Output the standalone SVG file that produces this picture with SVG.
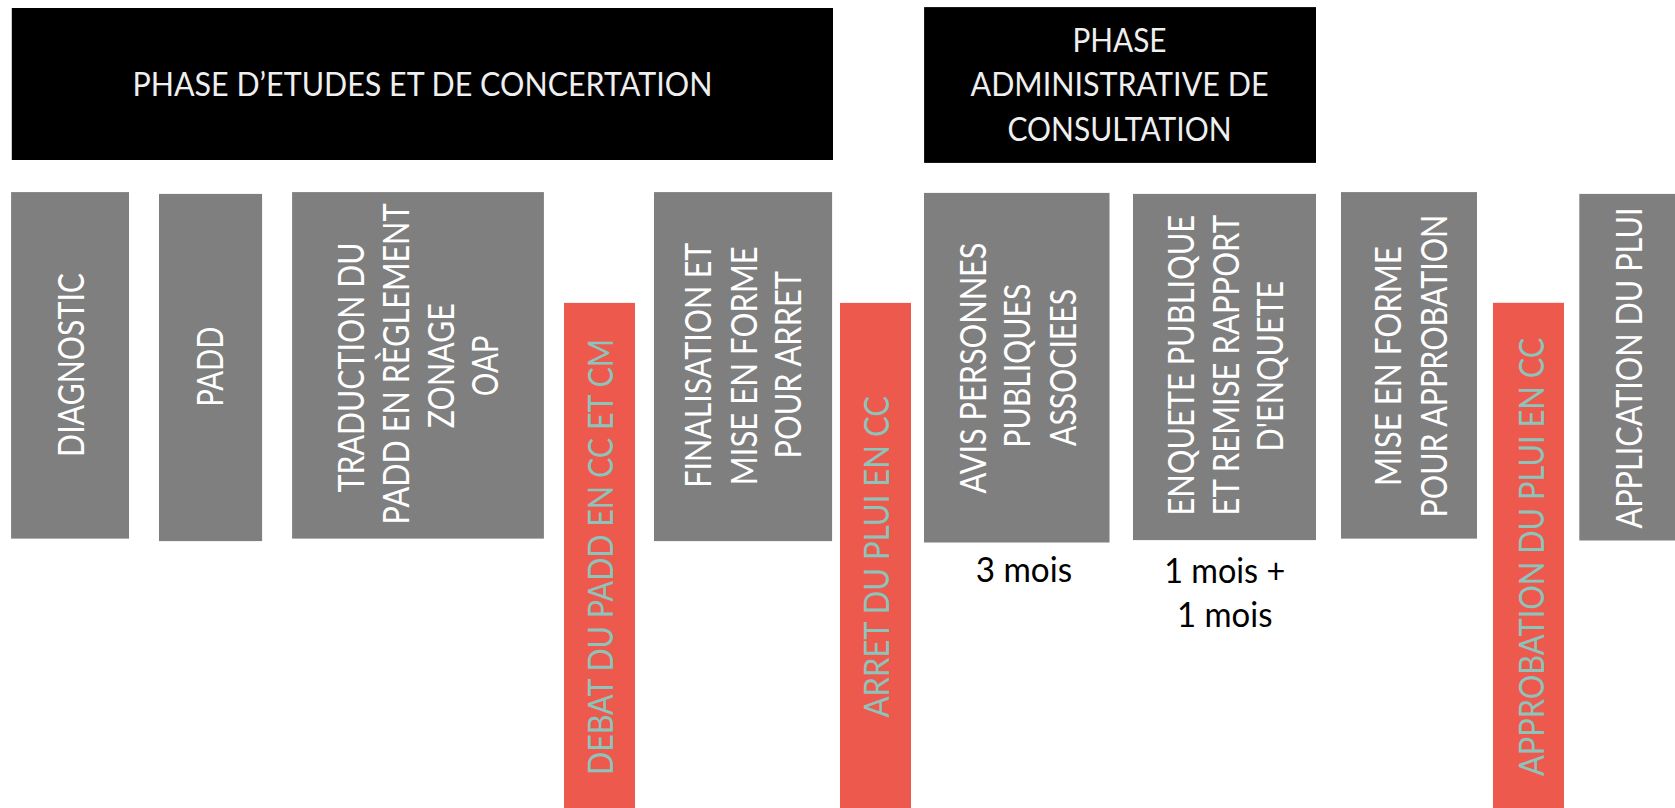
<svg xmlns="http://www.w3.org/2000/svg" width="1675" height="808" viewBox="0 0 1675 808">
<style>
.phase{fill:#000000}
.step{fill:#7f7f7f}
.key{fill:#ed5a4d}
text{font-family:Lato,"Open Sans","Liberation Sans",sans-serif}
.ttl{fill:#efefef;font-size:32px;text-anchor:middle}
.st{fill:#ffffff;font-size:37px;text-anchor:middle}
.kt{fill:#8cc3bb;font-size:35px;text-anchor:middle}
.dur{fill:#000000;font-size:34px;text-anchor:middle}
</style>
<rect width="1675" height="808" fill="#ffffff"/>
<g id="phase-etudes">
<rect class="phase" x="11.8" y="8" width="821.2" height="152"/>
<text class="ttl" x="422.4" y="96.4" textLength="580" lengthAdjust="spacingAndGlyphs">PHASE D’ETUDES ET DE CONCERTATION</text>
</g>
<g id="phase-administrative">
<rect class="phase" x="924.1" y="7.1" width="391.9" height="155.8"/>
<text class="ttl" x="1119.5" y="51.8" textLength="94" lengthAdjust="spacingAndGlyphs">PHASE</text>
<text class="ttl" x="1119.5" y="96.4" textLength="298" lengthAdjust="spacingAndGlyphs">ADMINISTRATIVE DE</text>
<text class="ttl" x="1119.5" y="141.1" textLength="224" lengthAdjust="spacingAndGlyphs">CONSULTATION</text>
</g>
<g id="diagnostic">
<rect class="step" x="11.1" y="192.1" width="117.9" height="346.5"/>
<text class="st" transform="translate(83.9 364.9) rotate(-90)" textLength="184" lengthAdjust="spacingAndGlyphs">DIAGNOSTIC</text>
</g>
<g id="padd">
<rect class="step" x="159" y="193.9" width="103.1" height="347.2"/>
<text class="st" transform="translate(223.2 366.6) rotate(-90)" textLength="80.4" lengthAdjust="spacingAndGlyphs">PADD</text>
</g>
<g id="traduction">
<rect class="step" x="292.1" y="192.1" width="251.8" height="346.5"/>
<text class="st" transform="translate(364.3 367.5) rotate(-90)" textLength="250" lengthAdjust="spacingAndGlyphs">TRADUCTION DU</text>
<text class="st" transform="translate(408.9 363.9) rotate(-90)" textLength="321" lengthAdjust="spacingAndGlyphs">PADD EN RÈGLEMENT</text>
<text class="st" transform="translate(453.6 365.7) rotate(-90)" textLength="125" lengthAdjust="spacingAndGlyphs">ZONAGE</text>
<text class="st" transform="translate(498.2 365.8) rotate(-90)" textLength="60.7" lengthAdjust="spacingAndGlyphs">OAP</text>
</g>
<g id="debat-padd">
<rect class="key" x="564" y="302.9" width="71" height="505.1"/>
<text class="kt" transform="translate(613.2 557) rotate(-90)" textLength="436" lengthAdjust="spacingAndGlyphs">DEBAT DU PADD EN CC ET CM</text>
</g>
<g id="finalisation">
<rect class="step" x="654" y="192.1" width="178.1" height="349"/>
<text class="st" transform="translate(711.4 365.2) rotate(-90)" textLength="245" lengthAdjust="spacingAndGlyphs">FINALISATION ET</text>
<text class="st" transform="translate(756.8 365.7) rotate(-90)" textLength="239" lengthAdjust="spacingAndGlyphs">MISE EN FORME</text>
<text class="st" transform="translate(801.4 364.8) rotate(-90)" textLength="187.5" lengthAdjust="spacingAndGlyphs">POUR ARRET</text>
</g>
<g id="arret-plui">
<rect class="key" x="840" y="302.9" width="71" height="505.1"/>
<text class="kt" transform="translate(889.3 556.8) rotate(-90)" textLength="321.5" lengthAdjust="spacingAndGlyphs">ARRET DU PLUI EN CC</text>
</g>
<g id="avis-ppa">
<rect class="step" x="924" y="192.9" width="185.5" height="349.6"/>
<text class="st" transform="translate(985.7 368) rotate(-90)" textLength="251" lengthAdjust="spacingAndGlyphs">AVIS PERSONNES</text>
<text class="st" transform="translate(1030 365.7) rotate(-90)" textLength="164" lengthAdjust="spacingAndGlyphs">PUBLIQUES</text>
<text class="st" transform="translate(1075.7 367.5) rotate(-90)" textLength="157" lengthAdjust="spacingAndGlyphs">ASSOCIEES</text>
<text class="dur" x="1023.9" y="581.8" textLength="96.4" lengthAdjust="spacingAndGlyphs">3 mois</text>
</g>
<g id="enquete">
<rect class="step" x="1133" y="193.9" width="183" height="346.2"/>
<text class="st" transform="translate(1193.5 365.2) rotate(-90)" textLength="300.7" lengthAdjust="spacingAndGlyphs">ENQUETE PUBLIQUE</text>
<text class="st" transform="translate(1238.6 365.2) rotate(-90)" textLength="300.7" lengthAdjust="spacingAndGlyphs">ET REMISE RAPPORT</text>
<text class="st" transform="translate(1283.4 366.1) rotate(-90)" textLength="170.6" lengthAdjust="spacingAndGlyphs">D'ENQUETE</text>
<text class="dur" x="1224.7" y="583.4" textLength="121" lengthAdjust="spacingAndGlyphs">1 mois +</text>
<text class="dur" x="1224.7" y="627.4" textLength="95.4" lengthAdjust="spacingAndGlyphs">1 mois</text>
</g>
<g id="mise-en-forme">
<rect class="step" x="1341" y="192.1" width="136" height="346.5"/>
<text class="st" transform="translate(1400.7 366.1) rotate(-90)" textLength="240" lengthAdjust="spacingAndGlyphs">MISE EN FORME</text>
<text class="st" transform="translate(1446.5 366.1) rotate(-90)" textLength="302.6" lengthAdjust="spacingAndGlyphs">POUR APPROBATION</text>
</g>
<g id="approbation-plui">
<rect class="key" x="1493" y="302.8" width="71" height="505.2"/>
<text class="kt" transform="translate(1543.7 556.9) rotate(-90)" textLength="438.3" lengthAdjust="spacingAndGlyphs">APPROBATION DU PLUI EN CC</text>
</g>
<g id="application-plui">
<rect class="step" x="1579.3" y="193.9" width="100.7" height="346.6"/>
<text class="st" transform="translate(1642 368) rotate(-90)" textLength="321" lengthAdjust="spacingAndGlyphs">APPLICATION DU PLUI</text>
</g>
<g id="connectors"></g>
</svg>
